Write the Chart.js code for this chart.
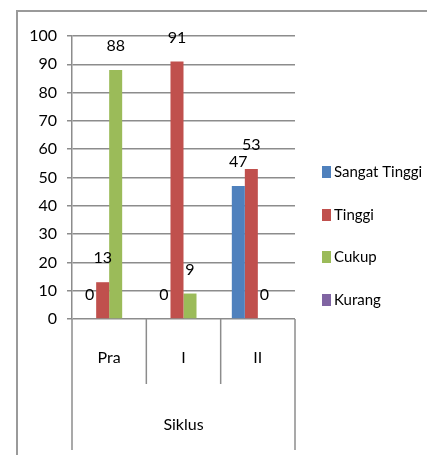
<!DOCTYPE html>
<html>
<head>
<meta charset="utf-8">
<script src="https://cdn.jsdelivr.net/npm/chart.js@4/dist/chart.umd.min.js"></script>
<style>
  html, body { margin: 0; padding: 0; background: #fff; }
  #wrap { position: relative; width: 427px; height: 455px; }
  #frame { position: absolute; left: 16px; top: 10px; width: 420px; height: 460px;
           border-left: 2px solid #9a9a9a; border-top: 2px solid #9a9a9a; }
  canvas { position: absolute; left: 0; top: 0; }
</style>
</head>
<body>
<div id="wrap">
  <div id="frame"></div>
  <canvas id="chart" width="427" height="455"></canvas>
</div>
<script>
const categories = ["Pra", "I", "II"];
const seriesNames = ["Sangat Tinggi", "Tinggi", "Cukup", "Kurang"];
const sangatTinggi = [0, 0, 47];
const tinggi = [13, 91, 53];
const cukup = [88, 9, 0];
const kurang = [null, null, null];
const yTicks = [0, 10, 20, 30, 40, 50, 60, 70, 80, 90, 100];
const seriesColors = ["#4F81BD", "#C0504D", "#9BBB59", "#8064A2"];

const fontFamily = "Lato, 'DejaVu Sans Condensed', sans-serif";
const fontSize = 16;
const gridColor = "#8c8c8c";

// value labels above each bar
const valueLabels = {
  id: "valueLabels",
  afterDatasetsDraw(chart) {
    const ctx = chart.ctx;
    ctx.save();
    ctx.font = fontSize + "px " + fontFamily;
    ctx.fillStyle = "#000";
    ctx.textAlign = "center";
    ctx.textBaseline = "middle";
    chart.data.datasets.forEach((ds, i) => {
      const meta = chart.getDatasetMeta(i);
      meta.data.forEach((bar, j) => {
        if (ds.data[j] === null) return;
        ctx.fillText(String(ds.data[j]), bar.x, bar.y - 24);
      });
    });
    ctx.restore();
  }
};

// category divider lines below the axis and the side legend
const extras = {
  id: "extras",
  afterDraw(chart) {
    const ctx = chart.ctx;
    const area = chart.chartArea;
    ctx.save();
    ctx.strokeStyle = gridColor;
    ctx.lineWidth = 1.5;
    const step = (area.right - area.left) / categories.length;
    for (let i = 0; i <= categories.length; i++) {
      const px = area.left + step * i;
      const bottom = (i === 0 || i === categories.length) ? 450 : 384;
      ctx.beginPath();
      ctx.moveTo(px, area.bottom);
      ctx.lineTo(px, bottom);
      ctx.stroke();
    }

    ctx.font = "15px " + fontFamily;
    ctx.textAlign = "left";
    ctx.textBaseline = "middle";
    const legendY = [172, 215, 257, 300];
    seriesNames.forEach((name, i) => {
      ctx.fillStyle = seriesColors[i];
      ctx.fillRect(322, legendY[i] - 6, 9, 12);
      ctx.fillStyle = "#000";
      ctx.fillText(name, 334, legendY[i]);
    });
    ctx.restore();
  }
};

const datasets = [sangatTinggi, tinggi, cukup, kurang].map((data, i) => ({
  label: seriesNames[i],
  data: data,
  backgroundColor: seriesColors[i],
  borderWidth: 0,
  categoryPercentage: 0.7,
  barPercentage: 1
}));

new Chart(document.getElementById("chart"), {
  type: "bar",
  data: { labels: categories, datasets: datasets },
  options: {
    responsive: false,
    animation: false,
    layout: { padding: { left: 0, right: 132, top: 36, bottom: 0 } },
    plugins: { legend: { display: false }, tooltip: { enabled: false } },
    scales: {
      x: {
        afterFit: (scale) => { scale.height = 136; },
        grid: { display: false, drawTicks: false },
        border: { display: false },
        ticks: { color: "#000", padding: 29, font: { family: fontFamily, size: fontSize } },
        title: {
          display: true,
          text: "Siklus",
          color: "#000",
          font: { family: fontFamily, size: fontSize },
          padding: { top: 40, bottom: 21 }
        }
      },
      y: {
        min: 0,
        max: 100,
        afterFit: (scale) => { scale.width = 72; },
        afterBuildTicks: (scale) => { scale.ticks = yTicks.map((v) => ({ value: v })); },
        grid: { color: gridColor, lineWidth: 1.5, tickLength: 5 },
        border: { display: true, color: gridColor, width: 1.5 },
        ticks: { color: "#000", padding: 10, font: { family: fontFamily, size: fontSize } }
      }
    }
  },
  plugins: [valueLabels, extras]
});
</script>
</body>
</html>
